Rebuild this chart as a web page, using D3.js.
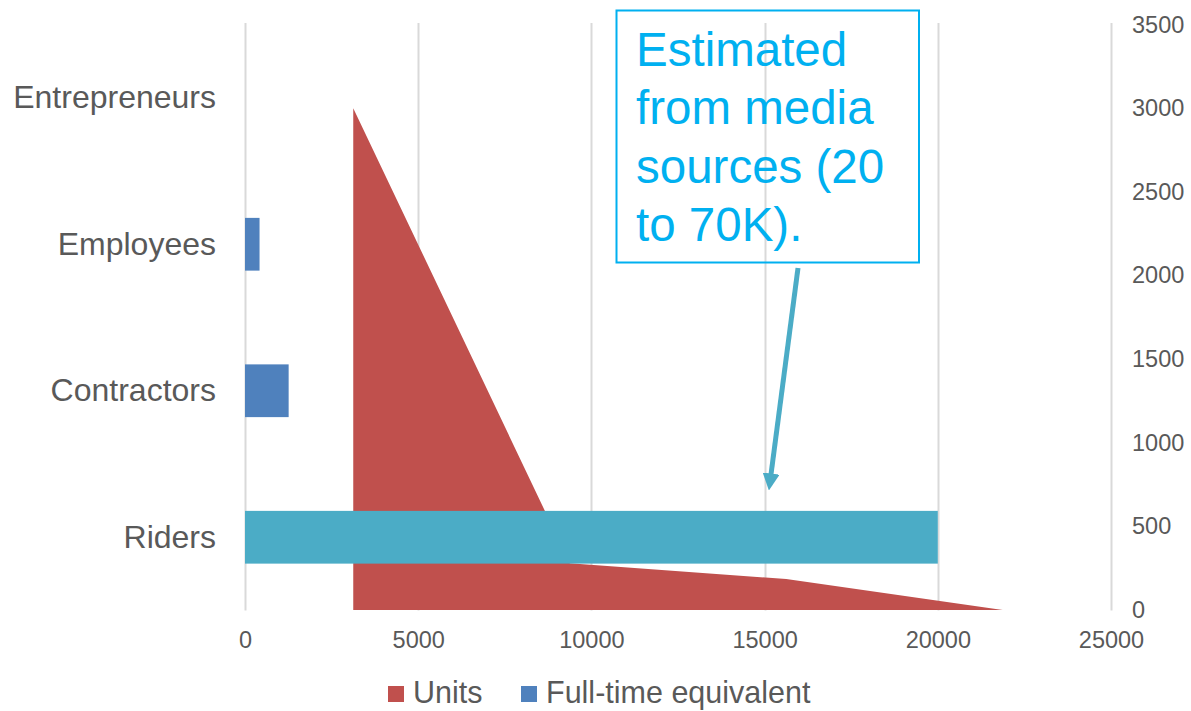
<!DOCTYPE html>
<html>
<head>
<meta charset="utf-8">
<script src="https://cdn.jsdelivr.net/npm/d3@7"></script>
<style>
  html, body { margin: 0; padding: 0; background: #fff; }
  svg { display: block; font-family: "Liberation Sans", Arial, sans-serif; }
</style>
</head>
<body>
<svg id="chart" width="1191" height="711"></svg>
<script>
// ---- data ----
const categories = ["Riders", "Contractors", "Employees", "Entrepreneurs"]; // bottom to top
const fteValues = [20000, 1260, 420, 0];          // Full-time equivalent (bottom axis)
const unitsValues = [3000, 280, 185, 0];          // Units (right axis, secondary category axis)
const xTicks = [0, 5000, 10000, 15000, 20000, 25000];
const yRightTicks = [0, 500, 1000, 1500, 2000, 2500, 3000, 3500];
const seriesNames = ["Units", "Full-time equivalent"];
const calloutLines = ["Estimated", "from media", "sources (20", "to 70K)."];

// ---- styles ----
const colRed = "#C0504D", colBlue = "#4F81BD", colTeal = "#4BACC6";
const barColors = [colTeal, colBlue, colBlue, colBlue];
const textCol = "#595959", gridCol = "#D9D9D9", calloutCol = "#00B0F0";

const svg = d3.select("#chart");
const plot = { left: 245, right: 1111, top: 24.5, bottom: 610.5 };

const x = d3.scaleLinear().domain([0, 25000]).range([plot.left, plot.right]);
const y = d3.scaleBand().domain(categories).range([plot.bottom, plot.top])
  .paddingInner(0.64).paddingOuter(0.32);
const x2 = d3.scalePoint().domain(categories).range([plot.left, plot.right]).padding(0.5);
const yR = d3.scaleLinear().domain([0, 3500]).range([plot.bottom - 0.5, plot.top]);

// gridlines
svg.append("g").selectAll("line").data(xTicks).join("line")
  .attr("x1", d => Math.round(x(d)) + 0.5).attr("x2", d => Math.round(x(d)) + 0.5)
  .attr("y1", 23).attr("y2", 610.5)
  .attr("stroke", gridCol).attr("stroke-width", 2);

// Units area (secondary axes)
const area = d3.area()
  .x((d, i) => x2(categories[i]))
  .y0(yR(0))
  .y1(d => yR(d));
svg.append("path").datum(unitsValues)
  .attr("d", area).attr("fill", colRed);

// FTE bars
svg.append("g").selectAll("rect").data(categories).join("rect")
  .attr("x", x(0))
  .attr("y", d => y(d))
  .attr("width", (d, i) => x(fteValues[i]) - x(0))
  .attr("height", y.bandwidth())
  .attr("fill", (d, i) => barColors[i]);

// bottom axis
const xAxis = svg.append("g").attr("transform", `translate(0,${plot.bottom})`)
  .call(d3.axisBottom(x).tickValues(xTicks).tickSize(0).tickPadding(21).tickFormat(d3.format("d")));
xAxis.select(".domain").remove();
xAxis.selectAll("text").attr("font-size", 23.5).attr("fill", textCol)
  .attr("font-family", "Liberation Sans, Arial, sans-serif");

// right axis
const yAxisR = svg.append("g").attr("transform", `translate(1132,0)`)
  .call(d3.axisRight(yR).tickValues(yRightTicks).tickSize(0).tickPadding(0).tickFormat(d3.format("d")));
yAxisR.select(".domain").remove();
yAxisR.selectAll("text").attr("font-size", 23.5).attr("fill", textCol)
  .attr("font-family", "Liberation Sans, Arial, sans-serif");

// left category axis
const yAxisL = svg.append("g").attr("transform", `translate(216,0)`)
  .call(d3.axisLeft(y).tickSize(0).tickPadding(0));
yAxisL.select(".domain").remove();
yAxisL.selectAll("text").attr("font-size", 32).attr("fill", textCol)
  .attr("font-family", "Liberation Sans, Arial, sans-serif");

// legend
const legend = svg.append("g");
const legItems = [
  { name: seriesNames[0], color: colRed, x: 388 },
  { name: seriesNames[1], color: colBlue, x: 521 }
];
legItems.forEach(it => {
  legend.append("rect").attr("x", it.x).attr("y", 686).attr("width", 16).attr("height", 16).attr("fill", it.color);
  legend.append("text").attr("x", it.x + 25).attr("y", 703)
    .attr("font-size", 30.5).attr("fill", textCol).text(it.name);
});

// callout box
svg.append("rect").attr("x", 616.5).attr("y", 10.5).attr("width", 302.5).attr("height", 252)
  .attr("fill", "none").attr("stroke", calloutCol).attr("stroke-width", 2);
const ct = svg.append("text").attr("font-size", 47.5).attr("fill", calloutCol);
calloutLines.forEach((l, i) => {
  ct.append("tspan").attr("x", 636).attr("y", 66 + i * 58.3).text(l);
});

// arrow
const defs = svg.append("defs");
defs.append("marker").attr("id", "arrowhead")
  .attr("viewBox", "0 0 10 10").attr("refX", 5).attr("refY", 5)
  .attr("markerWidth", 3.4).attr("markerHeight", 3.4).attr("orient", "auto")
  .attr("markerUnits", "strokeWidth")
  .append("path").attr("d", "M0,0 L10,5 L0,10 Z").attr("fill", colTeal);
svg.append("line").attr("x1", 798).attr("y1", 268).attr("x2", 770).attr("y2", 482)
  .attr("stroke", colTeal).attr("stroke-width", 5)
  .attr("marker-end", "url(#arrowhead)");
</script>
</body>
</html>
